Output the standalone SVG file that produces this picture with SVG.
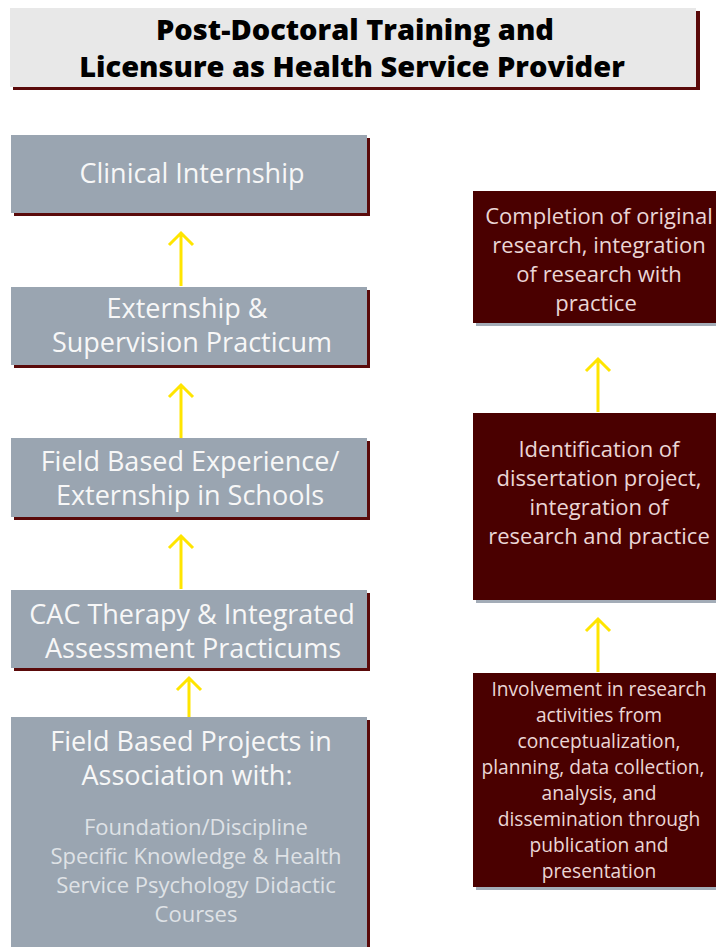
<svg xmlns="http://www.w3.org/2000/svg" width="716" height="947" viewBox="0 0 716 947">
<defs>
<style>
.gshadow{fill:#5a0a0a}
.gbox{fill:#9aa5b1}
.rshadow{fill:#a3acb7}
.rbox{fill:#4a0000}
.lt{font-family:"Open Sans",sans-serif;font-size:27px;fill:#f7f7f7;text-anchor:middle}
.ls{font-family:"Open Sans",sans-serif;font-size:22px;fill:#dfe2e6;text-anchor:middle}
.rt{font-family:"Open Sans",sans-serif;font-size:22px;fill:#ead6d6;text-anchor:middle}
.rs{font-family:"Open Sans",sans-serif;font-size:19.2px;fill:#ead6d6;text-anchor:middle}
.tt{font-family:"Open Sans",sans-serif;font-weight:800;font-size:29px;fill:#000;text-anchor:middle}
.arrow{stroke:#ffe500;stroke-width:3;fill:none;stroke-linecap:butt}
</style>
</defs>
<rect width="716" height="947" fill="#ffffff"/>
<g id="title">
<rect x="13" y="11" width="687" height="79" class="gshadow"/>
<rect x="10" y="8" width="686" height="79" fill="#e8e8e8"/>
<text x="355" y="40" class="tt">Post-Doctoral Training and</text>
<text x="352" y="77" class="tt">Licensure as Health Service Provider</text>
</g>
<g id="clinical-internship">
<rect x="14" y="138" width="356" height="78" class="gshadow"/>
<rect x="11" y="135" width="356" height="78" class="gbox"/>
<text x="192" y="183" class="lt">Clinical Internship</text>
</g>
<g id="externship-supervision">
<rect x="14" y="290" width="356" height="78" class="gshadow"/>
<rect x="11" y="287" width="356" height="78" class="gbox"/>
<text x="187" y="318" class="lt">Externship &amp;</text>
<text x="192" y="352" class="lt">Supervision Practicum</text>
</g>
<g id="field-experience">
<rect x="14" y="441" width="356" height="79" class="gshadow"/>
<rect x="11" y="438" width="356" height="79" class="gbox"/>
<text x="190" y="471" class="lt">Field Based Experience/</text>
<text x="190" y="505" class="lt">Externship in Schools</text>
</g>
<g id="cac-therapy">
<rect x="14" y="593" width="356" height="78" class="gshadow"/>
<rect x="11" y="590" width="356" height="78" class="gbox"/>
<text x="192" y="624" class="lt">CAC Therapy &amp; Integrated</text>
<text x="193" y="658" class="lt">Assessment Practicums</text>
</g>
<g id="field-projects">
<rect x="14" y="720" width="356" height="230" class="gshadow"/>
<rect x="11" y="717" width="356" height="233" class="gbox"/>
<text x="191" y="751" class="lt">Field Based Projects in</text>
<text x="187" y="785" class="lt">Association with:</text>
<text x="196" y="835" class="ls">Foundation/Discipline</text>
<text x="196" y="864" class="ls">Specific Knowledge &amp; Health</text>
<text x="196" y="893" class="ls">Service Psychology Didactic</text>
<text x="196" y="922" class="ls">Courses</text>
</g>
<g id="completion-research">
<rect x="476" y="194" width="243" height="132" class="rshadow"/>
<rect x="473" y="191" width="246" height="132" class="rbox"/>
<text x="599" y="224" class="rt">Completion of original</text>
<text x="599" y="253" class="rt">research, integration</text>
<text x="599" y="282" class="rt">of research with</text>
<text x="596" y="311" class="rt">practice</text>
</g>
<g id="identification-dissertation">
<rect x="476" y="416" width="243" height="187" class="rshadow"/>
<rect x="473" y="413" width="246" height="187" class="rbox"/>
<text x="599" y="457" class="rt">Identification of</text>
<text x="599" y="486" class="rt">dissertation project,</text>
<text x="599" y="515" class="rt">integration of</text>
<text x="599" y="544" class="rt">research and practice</text>
</g>
<g id="involvement-research">
<rect x="476" y="676" width="243" height="214" class="rshadow"/>
<rect x="473" y="673" width="246" height="214" class="rbox"/>
<text x="599" y="696" class="rs">Involvement in research</text>
<text x="599" y="722" class="rs">activities from</text>
<text x="599" y="748" class="rs">conceptualization,</text>
<text x="593" y="774" class="rs">planning, data collection,</text>
<text x="599" y="800" class="rs">analysis, and</text>
<text x="599" y="826" class="rs">dissemination through</text>
<text x="599" y="852" class="rs">publication and</text>
<text x="599" y="878" class="rs">presentation</text>
</g>
<g id="connectors">
<path class="arrow" d="M181,286 V233 M169,245 L181,233 L193,245"/>
<path class="arrow" d="M181,438 V385 M169,397 L181,385 L193,397"/>
<path class="arrow" d="M181,589 V536 M169,548 L181,536 L193,548"/>
<path class="arrow" d="M189,717 V678 M177,690 L189,678 L201,690"/>
<path class="arrow" d="M598,412 V359 M586,371 L598,359 L610,371"/>
<path class="arrow" d="M598,672 V619 M586,631 L598,619 L610,631"/>
</g>
</svg>
